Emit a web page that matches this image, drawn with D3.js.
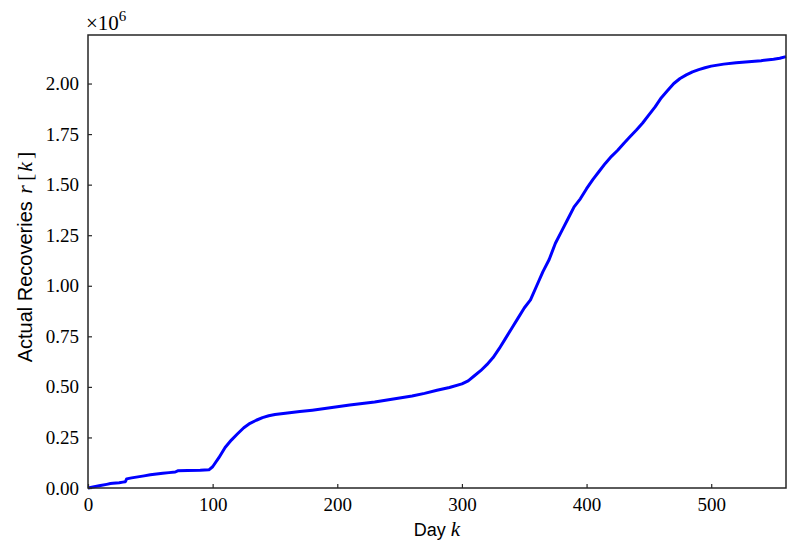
<!DOCTYPE html>
<html>
<head>
<meta charset="utf-8">
<script src="https://cdn.jsdelivr.net/npm/d3@7"></script>
<style>
  html, body { margin: 0; padding: 0; background: #fff; }
  svg { display: block; }
</style>
</head>
<body>
<svg id="chart" width="800" height="556"></svg>
<script>
// Day index k
const days = [0, 5, 10, 15, 18, 20, 25, 28, 30, 31, 35, 40, 45, 50, 55, 60, 65, 70, 72, 80, 90, 97,
  100, 105, 110, 115, 120, 125, 130, 135, 140, 145, 150, 160, 170, 180, 190, 200, 210, 220, 230, 240,
  250, 260, 270, 280, 290, 300, 305, 310, 315, 320, 325, 330, 335, 340, 345, 350, 355, 360, 365, 370,
  375, 380, 385, 390, 395, 400, 405, 410, 415, 420, 425, 430, 435, 440, 445, 450, 455, 460, 465, 470,
  475, 480, 485, 490, 495, 500, 510, 520, 530, 540, 550, 555, 560];
// Actual recoveries r[k], in units of 10^6
const recoveries = [0.000, 0.006, 0.012, 0.018, 0.022, 0.023, 0.026, 0.029, 0.031, 0.045, 0.050, 0.055, 0.060, 0.065, 0.069, 0.073, 0.076, 0.079, 0.085, 0.087, 0.088, 0.090,
  0.105, 0.150, 0.200, 0.237, 0.268, 0.298, 0.320, 0.335, 0.348, 0.357, 0.363, 0.371, 0.378, 0.385, 0.393, 0.402, 0.410, 0.418, 0.425, 0.435,
  0.445, 0.455, 0.468, 0.483, 0.497, 0.515, 0.530, 0.555, 0.580, 0.610, 0.645, 0.690, 0.740, 0.790, 0.840, 0.890, 0.930, 1.000, 1.070, 1.130,
  1.210, 1.270, 1.330, 1.390, 1.430, 1.480, 1.525, 1.565, 1.605, 1.640, 1.670, 1.705, 1.738, 1.770, 1.805, 1.845, 1.885, 1.930, 1.965, 2.000,
  2.025, 2.043, 2.058, 2.069, 2.078, 2.086, 2.096, 2.103, 2.108, 2.113, 2.120, 2.125, 2.133];
const xTicks = [0, 100, 200, 300, 400, 500];
const yTicks = [0, 0.25, 0.5, 0.75, 1.0, 1.25, 1.5, 1.75, 2.0];
const xDomain = [0, 560];
const yDomain = [0, 2.24];

const margin = { left: 88, right: 14, top: 35, bottom: 68 };
const W = 800, H = 556;
const svg = d3.select("#chart");
const x = d3.scaleLinear().domain(xDomain).range([margin.left, W - margin.right]);
const y = d3.scaleLinear().domain(yDomain).range([H - margin.bottom, margin.top]);

const axisColor = "#262626";
const serif = "'Liberation Serif', 'DejaVu Serif', serif";
const sans = "'Liberation Sans', 'DejaVu Sans', sans-serif";

// line
const data = days.map((d, i) => [d, recoveries[i]]);
svg.append("path")
  .datum(data)
  .attr("fill", "none")
  .attr("stroke", "#0000ff")
  .attr("stroke-width", 3)
  .attr("stroke-linejoin", "round")
  .attr("stroke-linecap", "butt")
  .attr("d", d3.line().x(d => x(d[0])).y(d => y(d[1])));

// axes
const xAxis = d3.axisBottom(x).tickValues(xTicks).tickSizeInner(-4).tickSizeOuter(0).tickPadding(10)
  .tickFormat(d3.format("d"));
const yAxis = d3.axisLeft(y).tickValues(yTicks).tickSizeInner(-4).tickSizeOuter(0).tickPadding(9)
  .tickFormat(d3.format(".2f"));

const gx = svg.append("g").attr("transform", `translate(0,${H - margin.bottom})`).call(xAxis);
const gy = svg.append("g").attr("transform", `translate(${margin.left},0)`).call(yAxis);
[gx, gy].forEach(g => {
  g.select(".domain").remove();
  g.selectAll(".tick line").attr("stroke", axisColor).attr("stroke-width", 1.2);
  g.selectAll(".tick text").attr("fill", "#000").style("font-family", serif).style("font-size", "19px");
});
gx.selectAll(".tick text").attr("dy", "0.71em");

// frame
svg.append("rect")
  .attr("x", margin.left).attr("y", margin.top)
  .attr("width", W - margin.left - margin.right)
  .attr("height", H - margin.top - margin.bottom)
  .attr("fill", "none").attr("stroke", axisColor).attr("stroke-width", 1.5);

// offset text ×10^6
const off = svg.append("text").attr("x", margin.left - 2).attr("y", 30)
  .style("font-family", serif).style("font-size", "21px").attr("fill", "#000");
off.append("tspan").text("×10");
off.append("tspan").attr("dy", -9).style("font-size", "15px").text("6");

// x label
const xl = svg.append("text")
  .attr("x", (margin.left + W - margin.right) / 2).attr("y", 536)
  .attr("text-anchor", "middle").attr("fill", "#000")
  .style("font-family", sans).style("font-size", "18px");
xl.append("tspan").text("Day ");
xl.append("tspan").style("font-family", serif).style("font-style", "italic").style("font-size", "21px").text("k");

// y label
const yl = svg.append("text")
  .attr("transform", `translate(32,257) rotate(-90)`)
  .attr("text-anchor", "middle").attr("fill", "#000")
  .style("font-family", sans).style("font-size", "20px");
yl.append("tspan").text("Actual Recoveries ");
yl.append("tspan").attr("dx", 2).style("font-family", serif).style("font-style", "italic").style("font-size", "22px").text("r");
yl.append("tspan").attr("dx", 4).style("font-family", serif).style("font-size", "22px").text("[");
yl.append("tspan").attr("dx", 2).style("font-family", serif).style("font-style", "italic").style("font-size", "22px").text("k");
yl.append("tspan").attr("dx", 3).style("font-family", serif).style("font-size", "22px").text("]");
</script>
</body>
</html>
